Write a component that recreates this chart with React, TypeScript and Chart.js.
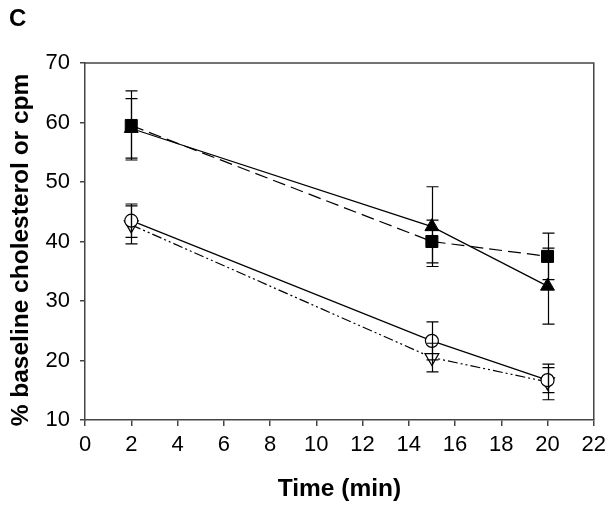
import React, { useEffect, useRef } from 'react';
import { Chart, registerables } from 'chart.js';

Chart.register(...registerables);

const times = [2, 15, 20];
const squareValues = [59.5, 40, 37.5];
const squareErrors = [5.8, 3.6, 3.9];
const triangleValues = [59, 42.5, 32.5];
const triangleErrors = [5, 6.7, 6.4];
const circleValues = [43.5, 23.3, 16.7];
const circleErrors = [2.8, 3.2, 2.1];
const downTriangleValues = [42.8, 20.5, 16.4];
const downTriangleErrors = [3.2, 2.4, 3.0];
const xTicks = [0, 22, 2];
const yTicks = [10, 70, 10];
const panelLabel = 'C';
const xTitle = 'Time (min)';
const yTitle = '% baseline cholesterol or cpm';

const FONT = '"Liberation Sans", Arial, Helvetica, sans-serif';

export default function App() {
  const ref = useRef<HTMLCanvasElement>(null);

  useEffect(() => {
    const canvas = ref.current;
    if (!canvas) return;
    const mk = (vals: number[]) => times.map((t, i) => ({ x: t, y: vals[i] }));

    const errorBarPlugin = {
      id: 'errorBars',
      afterDatasetsDraw(chart: any) {
        const ctx = chart.ctx;
        const xs = chart.scales.x;
        const ys = chart.scales.y;
        ctx.save();
        ctx.strokeStyle = '#000';
        ctx.lineWidth = 1.2;
        ctx.setLineDash([]);
        chart.data.datasets.forEach((ds: any) => {
          const errs: number[] = ds.errors;
          ds.data.forEach((p: any, i: number) => {
            const x = Math.round(xs.getPixelForValue(p.x)) + 0.5;
            const y1 = ys.getPixelForValue(p.y + errs[i]);
            const y2 = ys.getPixelForValue(p.y - errs[i]);
            ctx.beginPath();
            ctx.moveTo(x, y1);
            ctx.lineTo(x, y2);
            ctx.moveTo(x - 6, y1);
            ctx.lineTo(x + 6, y1);
            ctx.moveTo(x - 6, y2);
            ctx.lineTo(x + 6, y2);
            ctx.stroke();
          });
        });
        ctx.restore();
      },
    };

    const framePlugin = {
      id: 'frame',
      afterDraw(chart: any) {
        const { ctx, chartArea } = chart;
        ctx.save();
        ctx.strokeStyle = '#444';
        ctx.lineWidth = 1.5;
        ctx.beginPath();
        ctx.moveTo(chartArea.left, chartArea.top);
        ctx.lineTo(chartArea.right, chartArea.top);
        ctx.lineTo(chartArea.right, chartArea.bottom);
        ctx.stroke();
        ctx.fillStyle = '#000';
        ctx.font = `bold 24px ${FONT}`;
        ctx.textAlign = 'left';
        ctx.textBaseline = 'alphabetic';
        ctx.fillText(panelLabel, 9, 26);
        // y-axis title
        ctx.translate(21, 250);
        ctx.rotate(-Math.PI / 2);
        ctx.font = `bold 24.5px ${FONT}`;
        ctx.textAlign = 'center';
        ctx.textBaseline = 'middle';
        ctx.fillText(yTitle, 0, 0);
        ctx.restore();
      },
    };

    const tickFont = { family: FONT, size: 22 };
    const titleFont = { family: FONT, size: 24.5, weight: 'bold' as const };

    const chart = new Chart(canvas, {
      type: 'line',
      data: {
        datasets: [
          {
            data: mk(squareValues),
            errors: squareErrors,
            borderColor: '#000',
            borderWidth: 1.2,
            borderDash: [13, 6],
            pointStyle: 'rect',
            pointRadius: 8.5,
            pointBackgroundColor: '#000',
            pointBorderColor: '#000',
            pointBorderWidth: 1,
          } as any,
          {
            data: mk(triangleValues),
            errors: triangleErrors,
            borderColor: '#000',
            borderWidth: 1.2,
            pointStyle: 'triangle',
            pointRadius: 8,
            pointBackgroundColor: '#000',
            pointBorderColor: '#000',
            pointBorderWidth: 1,
          } as any,
          {
            data: mk(circleValues),
            errors: circleErrors,
            borderColor: '#000',
            borderWidth: 1.2,
            pointStyle: 'circle',
            pointRadius: 6.5,
            pointBackgroundColor: '#fff',
            pointBorderColor: '#000',
            pointBorderWidth: 1.2,
          } as any,
          {
            data: mk(downTriangleValues),
            errors: downTriangleErrors,
            borderColor: '#000',
            borderWidth: 1.2,
            borderDash: [10, 3, 2, 3, 2, 3],
            pointStyle: 'triangle',
            rotation: 180,
            pointRotation: 180,
            pointRadius: 8,
            pointBackgroundColor: '#fff',
            pointBorderColor: '#000',
            pointBorderWidth: 1.2,
          } as any,
        ],
      },
      options: {
        animation: false,
        responsive: false,
        maintainAspectRatio: false,
        layout: { padding: { left: 0, top: 63, right: 17, bottom: 0 } },
        plugins: { legend: { display: false }, tooltip: { enabled: false } },
        scales: {
          x: {
            type: 'linear',
            min: xTicks[0],
            max: xTicks[1],
            ticks: { stepSize: xTicks[2], color: '#000', font: tickFont, padding: 6 },
            grid: { drawOnChartArea: false, drawTicks: true, tickLength: 6, color: '#444', lineWidth: 1.5 },
            border: { display: true, color: '#444', width: 1.5 },
            title: { display: true, text: xTitle, color: '#000', font: titleFont, padding: { top: 0, bottom: 5 } },
            afterFit: (s: any) => { s.height = 89; },
          },
          y: {
            type: 'linear',
            min: yTicks[0],
            max: yTicks[1],
            ticks: { stepSize: yTicks[2], color: '#000', font: tickFont, padding: 10 },
            grid: { drawOnChartArea: false, drawTicks: true, tickLength: 5, color: '#444', lineWidth: 1.5 },
            border: { display: true, color: '#444', width: 1.5 },
            title: { display: false },
            afterFit: (s: any) => { s.width = 85; },
          },
        },
      },
      plugins: [errorBarPlugin, framePlugin],
    } as any);

    return () => chart.destroy();
  }, []);

  return (
    <div style={{ position: 'absolute', left: 0, top: 0, width: 612, height: 509, background: '#fff' }}>
      <canvas ref={ref} width={612} height={509} style={{ width: 612, height: 509, display: 'block' }} />
    </div>
  );
}
